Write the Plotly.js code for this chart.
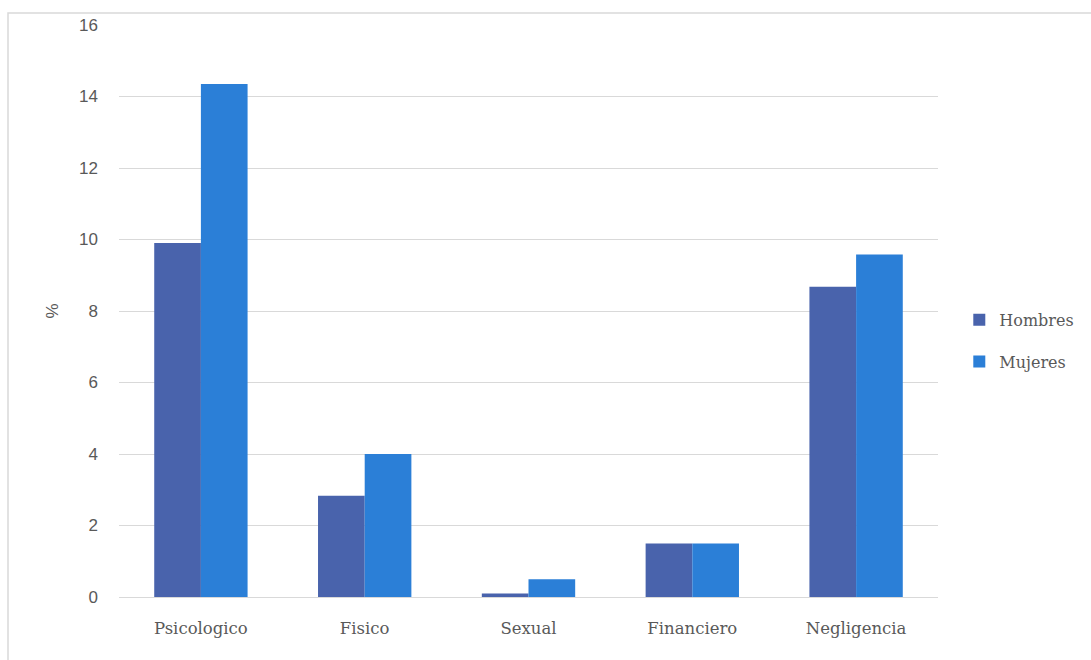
<!DOCTYPE html>
<html>
<head>
<meta charset="utf-8">
<script src="https://cdn.plot.ly/plotly-3.0.1.min.js"></script>
<style>html,body{margin:0;padding:0;background:#fff;}#chart{width:1091px;height:660px;}</style>
</head>
<body>
<div id="chart"></div>
<script>
const categories = ['Psicologico', 'Fisico', 'Sexual', 'Financiero', 'Negligencia'];
const hombres = [9.9, 2.83, 0.1, 1.5, 8.68];
const mujeres = [14.35, 4.0, 0.5, 1.5, 9.58];
const yTicks = [0, 2, 4, 6, 8, 10, 12, 14, 16];

const serif = 'DejaVu Serif, serif';
const sans = 'Liberation Sans, Arial, sans-serif';

const data = [
  {type: 'bar', name: 'Hombres', x: categories, y: hombres, marker: {color: '#4963AC', line: {width: 0}}, legendgroup: 'h'},
  {type: 'bar', name: 'Mujeres', x: categories, y: mujeres, marker: {color: '#2B7FD7', line: {width: 0}}, legendgroup: 'm'}
];

const layout = {
  width: 1091, height: 660,
  margin: {l: 119, r: 153, t: 25, b: 63},
  paper_bgcolor: '#ffffff', plot_bgcolor: '#ffffff',
  barmode: 'group', bargap: 0.43, bargroupgap: 0,
  showlegend: true,
  legend: {x: 1.026, xanchor: 'left', y: 0.448, yanchor: 'middle',
    font: {family: serif, size: 16, color: '#595959'}, tracegroupgap: 18, itemwidth: 30},
  xaxis: {
    showgrid: false, showline: true, linecolor: '#d9d9d9', linewidth: 1,
    ticks: '', ticklabelstandoff: 16,
    tickfont: {family: serif, size: 16.5, color: '#595959'}
  },
  yaxis: {
    range: [0, 16], tickvals: yTicks, ticktext: yTicks.map(String),
    showgrid: true, gridcolor: '#d9d9d9', gridwidth: 1,
    zeroline: false, showline: false, ticks: '', ticklabelstandoff: 20,
    tickfont: {family: sans, size: 17, color: '#595959'},
    title: {text: '%', font: {family: sans, size: 17, color: '#595959'}, standoff: 16}
  },
  shapes: [{
    type: 'rect', xref: 'paper', yref: 'paper',
    x0: (8 - 119) / 819, x1: 1.3, y0: -0.3, y1: (597 - 13) / 572,
    line: {color: '#d9d9d9', width: 1.5}, fillcolor: 'rgba(0,0,0,0)', layer: 'below'
  }]
};

Plotly.newPlot('chart', data, layout, {displayModeBar: false, staticPlot: true});
</script>
</body>
</html>
